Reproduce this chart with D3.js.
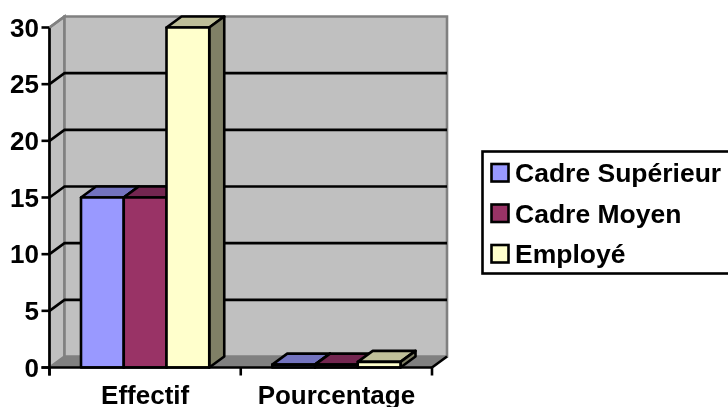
<!DOCTYPE html>
<html><head><meta charset="utf-8">
<script src="https://cdn.jsdelivr.net/npm/d3@7"></script>
<style>html,body{margin:0;padding:0;background:#fff;overflow:hidden}svg{display:block;filter:blur(0.4px)}text{font-family:"Liberation Sans",Arial,sans-serif;font-weight:bold;fill:#000}</style>
</head><body><svg id="c" width="728" height="407"></svg>
<script>
const categories=["Effectif","Pourcentage"];
const seriesNames=["Cadre Supérieur","Cadre Moyen","Employé"];
const cadreSuperieur=[15,0.25];
const cadreMoyen=[15,0.25];
const employe=[30,0.5];
const seriesValues=[cadreSuperieur,cadreMoyen,employe];
const yTicks=[0,5,10,15,20,25,30];
const colors=["#9999FF","#993366","#FFFFCC"];
const topColors=["#7373BF","#732650","#BFBF99"];
const sideColors=["#4D4D80","#4D1A33","#808066"];

const svg=d3.select("#c");
const dx=15,dy=11,sw2=2.6;
const y=d3.scaleLinear().domain([0,30]).range([367.5,27.5]);
const x0=d3.scaleBand().domain(categories).range([49.5,432]);
const x1=d3.scaleBand().domain(d3.range(3)).range([31.5,x0.bandwidth()-31.5]);
const pts=a=>a.map(p=>p.join(",")).join(" ");
const L=x0.range()[0],R=x0.range()[1],T=y(30),B=y(0);

// walls
svg.append("polygon").attr("points",pts([[L,T],[L+dx,T-dy],[L+dx,B-dy],[L,B]])).attr("fill","#C0C0C0").attr("stroke","#808080").attr("stroke-width",sw2);
svg.append("polygon").attr("points",pts([[L+dx,T-dy],[R+dx,T-dy],[R+dx,B-dy],[L+dx,B-dy]])).attr("fill","#C0C0C0").attr("stroke","#808080").attr("stroke-width",sw2);
svg.append("polygon").attr("points",pts([[L,B],[L+dx,B-dy],[R+dx,B-dy],[R,B]])).attr("fill","#808080").attr("stroke","#808080").attr("stroke-width",1);

// gridlines
yTicks.filter(t=>t>0&&t<30).forEach(t=>{
  svg.append("polyline").attr("points",pts([[L,y(t)],[L+dx,y(t)-dy],[R+dx,y(t)-dy]])).attr("fill","none").attr("stroke","#000").attr("stroke-width",sw2);
});
svg.append("line").attr("x1",R).attr("y1",B).attr("x2",R+dx).attr("y2",B-dy).attr("stroke","#000").attr("stroke-width",sw2);

// bars
const sw=x1.bandwidth();
const drawBar=(cat,i,v)=>{
  const xa=x0(cat)+x1(i),xb=xa+sw,yt=y(v);
  const g=svg.append("g").attr("stroke","#000").attr("stroke-width",sw2).attr("stroke-linejoin","round");
  g.append("polygon").attr("points",pts([[xa,yt],[xa+dx,yt-dy],[xb+dx,yt-dy],[xb,yt]])).attr("fill",topColors[i]);
  g.append("polygon").attr("points",pts([[xb,yt],[xb+dx,yt-dy],[xb+dx,B-dy],[xb,B]])).attr("fill",sideColors[i]);
  g.append("rect").attr("x",xa).attr("y",yt).attr("width",sw).attr("height",B-yt).attr("fill",colors[i]);
};
categories.forEach((c,ci)=>seriesValues.forEach((s,i)=>drawBar(c,i,s[ci])));

// axes
const ax=svg.append("g").attr("stroke","#000").attr("stroke-width",sw2);
ax.append("line").attr("x1",L).attr("x2",L).attr("y1",T).attr("y2",B+8);
ax.append("line").attr("x1",L-8).attr("x2",R).attr("y1",B).attr("y2",B);
yTicks.forEach(t=>ax.append("line").attr("x1",L-8).attr("x2",L).attr("y1",y(t)).attr("y2",y(t)));
[L,L+x0.bandwidth(),R].forEach(px=>ax.append("line").attr("x1",px).attr("x2",px).attr("y1",B).attr("y2",B+8));
svg.append("polyline").attr("points",pts([[L,T],[L+dx,T-dy]])).attr("fill","none").attr("stroke","#808080").attr("stroke-width",sw2);

yTicks.forEach(t=>svg.append("text").attr("x",39).attr("y",y(t)+9).attr("text-anchor","end").attr("font-size",26).text(t));
categories.forEach(c=>svg.append("text").attr("x",x0(c)+x0.bandwidth()/2).attr("y",404).attr("text-anchor","middle").attr("font-size",26).text(c));

// legend
svg.append("rect").attr("x",482.5).attr("y",151.5).attr("width",260).attr("height",122).attr("fill","#fff").attr("stroke","#000").attr("stroke-width",sw2);
seriesNames.forEach((n,i)=>{
  const top=164+i*40.5;
  svg.append("rect").attr("x",491.5).attr("y",top).attr("width",17).attr("height",17.5).attr("fill",colors[i]).attr("stroke","#000").attr("stroke-width",sw2);
  svg.append("text").attr("x",515).attr("y",top+18).attr("font-size",26.5).text(n);
});
</script></body></html>
